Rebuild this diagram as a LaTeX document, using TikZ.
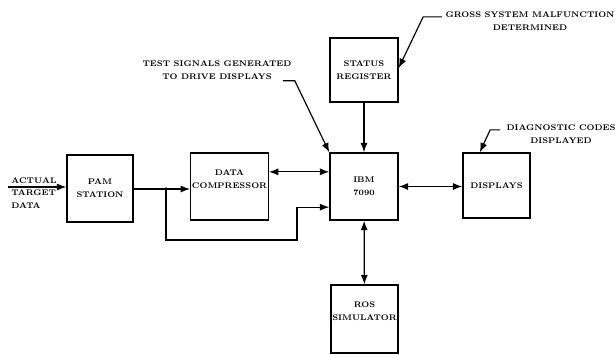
\documentclass[tikz,border=0pt]{standalone}
\usepackage{tikz}
\usetikzlibrary{arrows.meta, positioning}

\begin{document}
\begin{tikzpicture}[
    x=0.03cm, y=-0.03cm,
    block/.style={draw, line width=1.2pt, minimum width=2cm, minimum height=2cm, font=\fontsize{7}{11}\selectfont\bfseries, align=center, inner sep=1pt},
    note/.style={font=\fontsize{7}{11}\selectfont\bfseries, align=center, inner sep=1pt},
    arrow/.style={-{Latex[length=8pt, width=6pt]}, line width=1pt},
    dbl/.style={{Latex[length=8pt, width=6pt]}-{Latex[length=8pt, width=6pt]}, line width=1pt}
]
\useasboundingbox (0,0) rectangle (615,354);
\node[block, minimum width=1.98cm, minimum height=2.01cm] (pam) at (100,188.5) {PAM\\STATION};
\node[block, minimum width=2.25cm, minimum height=2.01cm] (comp) at (229.5,186.5) {DATA\\COMPRESSOR\\[2pt]};
\node[block, minimum width=2.04cm, minimum height=2.01cm] (ibm) at (364,186.5) {IBM\\7090};
\node[block, minimum width=2.04cm, minimum height=1.92cm] (status) at (364,70) {STATUS\\REGISTER};
\node[block, minimum width=2.01cm, minimum height=1.95cm] (disp) at (496.5,185.5) {DISPLAYS};
\node[block, minimum width=2.01cm, minimum height=2.04cm] (ros) at (364.5,319) {ROS\\SIMULATOR\\[2pt]};

\node[note, align=left, anchor=west] (input) at (10,193) {ACTUAL\\TARGET\\DATA};
\node[note] (test) at (217,70) {TEST SIGNALS GENERATED\\TO DRIVE DISPLAYS};
\node[note] (gross) at (530,21) {GROSS SYSTEM MALFUNCTION\\DETERMINED};
\node[note] (diag) at (561,134) {DIAGNOSTIC CODES\\DISPLAYED};

\coordinate (src) at (8,187);
\coordinate (split) at (166,189);
\coordinate (bend) at (297,240);

% signal path
\draw[arrow] (src) -- (pam.west |- src);
\draw[line width=1pt] (pam.east |- split) -- (split);
\fill (split) circle (1.8);
\draw[arrow] (split) -- (comp.west |- split);
\draw[arrow] (split) |- (bend) |- ([yshift=-0.62cm]ibm.west);
\draw[dbl] ([yshift=0.44cm]ibm.west -| comp.east) -- ([yshift=0.44cm]ibm.west);
\draw[arrow] (status) -- (ibm);
\draw[dbl] (ibm.east) -- (ibm.east -| disp.west);
\draw[dbl] (ibm) -- (ros);

% callouts
\draw[arrow] ([xshift=-0.3cm]test.south east) -- ++(12,0) -- (ibm.north west);
\draw[arrow] ([shift={(-0.06cm,-0.2cm)}]gross.north west) -- ++(-19,0) -- ([yshift=0.06cm]status.east);
\draw[arrow] ([shift={(-0.15cm,-0.2cm)}]diag.north west) -- ++(-10,0) -- ([xshift=-0.5cm]disp.north);
\end{tikzpicture}
\end{document}
